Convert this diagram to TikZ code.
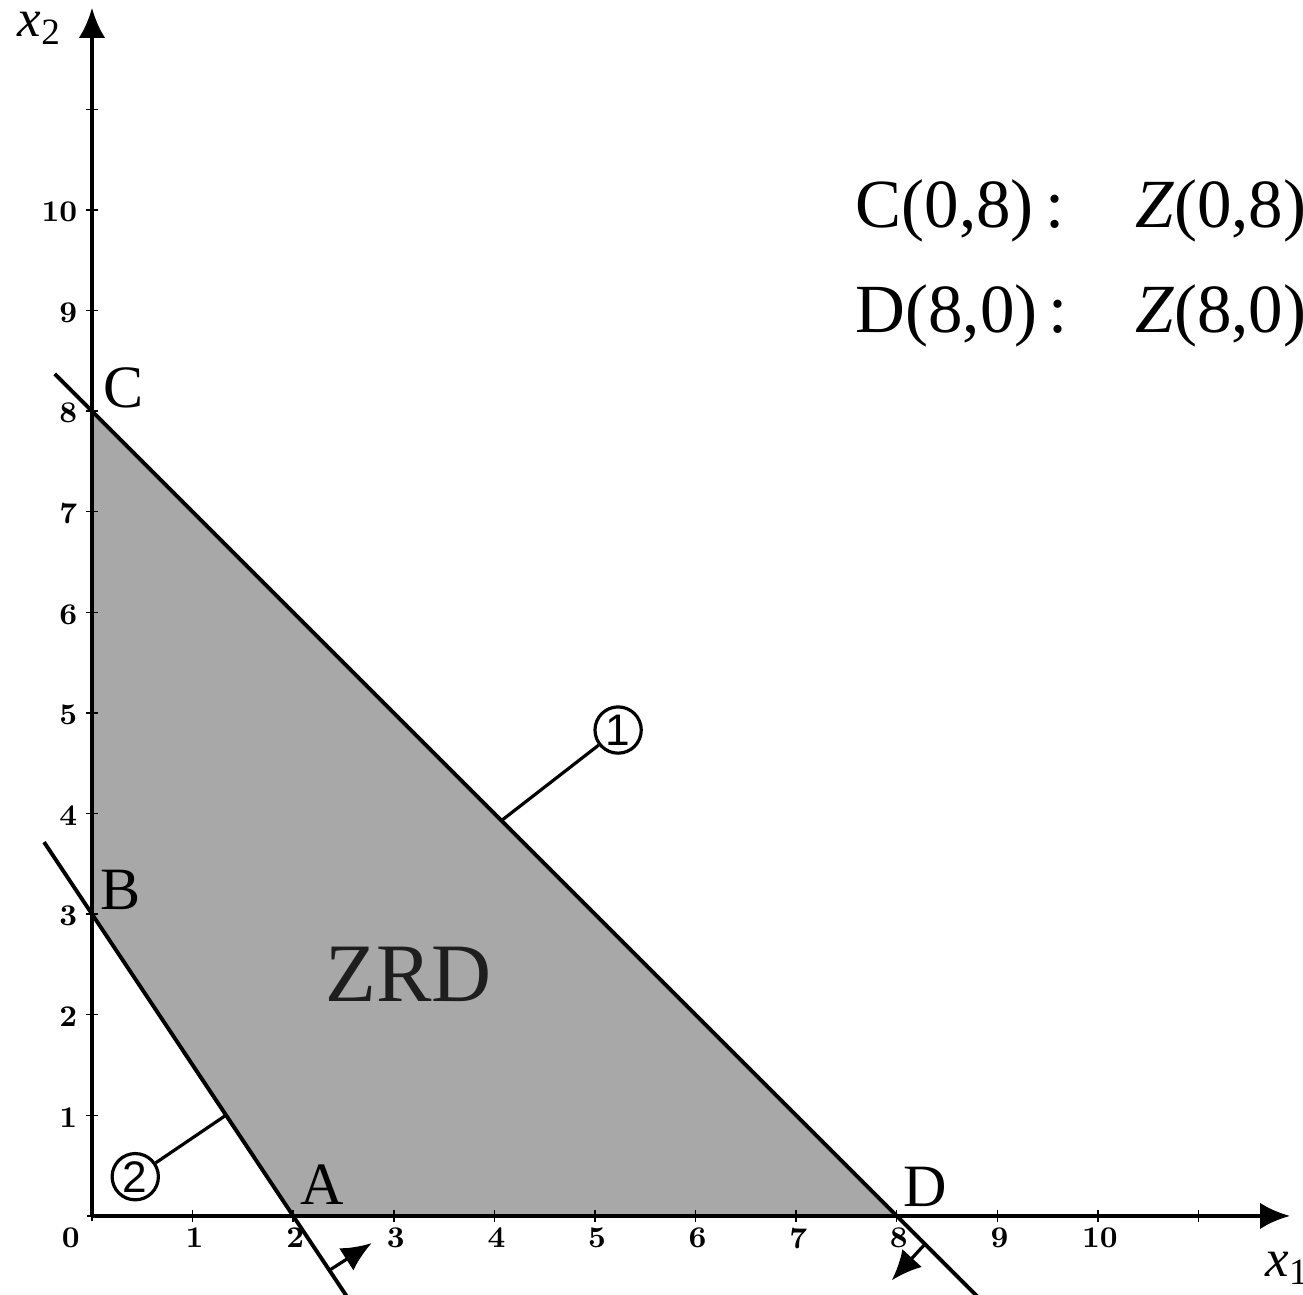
\documentclass[tikz,border=0pt]{standalone}
\usepackage{fontspec}
\newfontfamily\tms{Liberation Serif}
\newfontfamily\lsans{Liberation Sans}
\usetikzlibrary{arrows.meta}
\definecolor{zrdgray}{HTML}{A8A8A8}
\definecolor{inkdark}{HTML}{1E1E1E}
\begin{document}
\begin{tikzpicture}[x=1cm,y=1cm,
  axisline/.style={line width=1.2pt,-{Latex[length=8.5pt,width=7.5pt]}},
  cline/.style={line width=1.1pt},
  ticksty/.style={line width=0.4pt},
  ticklab/.style={font=\fontsize{8.5}{9}\selectfont\bfseries, inner sep=0pt},
  ptlab/.style={font=\tms\fontsize{17}{20}\selectfont, inner sep=0pt, anchor=base west},
  toptext/.style={font=\tms\fontsize{19.5}{22}\selectfont, inner sep=0pt, anchor=base west},
  circlab/.style={circle, draw, line width=0.9pt, minimum size=0.46cm, inner sep=0pt, font=\lsans\fontsize{12.5}{13}\selectfont},
  leader/.style={line width=0.9pt},
  dirarrow/.style={line width=0.9pt, -{Latex[length=8.5pt,width=7.5pt]}}
]
\useasboundingbox (-0.9145,-0.785) rectangle (12.038,12.087);

% key points
\coordinate (O) at (0,0);
\coordinate (A) at (2,0);
\coordinate (B) at (0,3);
\coordinate (C) at (0,8);
\coordinate (D) at (8,0);
\coordinate (xend) at (11.91,0);
\coordinate (yend) at (0,12.01);

% feasible region
\fill[zrdgray] (B) -- (C) -- (D) -- (A) -- cycle;

% ticks
\foreach \i in {1,...,11} {
  \draw[ticksty] (\i,-0.06) -- (\i,0.06);
  \draw[ticksty] (-0.06,\i) -- (0.06,\i);
}
\draw[ticksty] (-0.05,0) -- (0,0);
\draw[ticksty] (0,-0.05) -- (0,0);

% axes
\draw[axisline] (O) -- (xend);
\draw[axisline] (O) -- (yend);

% tick labels
\node[ticklab] (l0) at (-0.21,-0.22) {0};
\foreach \i in {1,...,10} {
  \node[ticklab] (lx\i) at (\i+0.02,-0.22) {\i};
  \node[ticklab, anchor=east] (ly\i) at (-0.14,\i-0.02) {\i};
}

% constraint lines
\coordinate (l1s) at (-0.37,8.37);
\coordinate (l1e) at (8.85,-0.85);
\coordinate (l2s) at (-0.477,3.716);
\coordinate (l2e) at (2.58,-0.87);
\draw[cline] (l1s) -- (l1e);
\draw[cline] (l2s) -- (l2e);

% direction arrows
\coordinate (a1b) at (8.28,-0.28);
\coordinate (a1t) at (7.95,-0.64);
\coordinate (a2b) at (2.36,-0.54);
\coordinate (a2t) at (2.78,-0.27);
\draw[dirarrow] (a1b) -- (a1t);
\draw[dirarrow] (a2b) -- (a2t);

% circled labels with leaders
\node[circlab] (n1) at (5.23,4.83) {1};
\node[circlab] (n2) at (0.43,0.39) {2};
\coordinate (p1) at (4.07,3.93);
\coordinate (p2) at (1.33,1.0);
\draw[leader] (p1) -- (n1);
\draw[leader] (p2) -- (n2);

% point labels
\node[ptlab] (labA) at (2.07,0.11) {A};
\node[ptlab] (labB) at (0.08,3.05) {B};
\node[ptlab] (labC) at (0.11,8.04) {C};
\node[ptlab] (labD) at (8.06,0.09) {D};

% region label
\node[font=\tms\fontsize{23.5}{26}\selectfont, text=inkdark, inner sep=0pt, anchor=base west] (zrd) at (2.316,2.127) {ZRD};

% axis labels
\node[font=\tms\fontsize{15}{17}\selectfont, inner sep=0pt, anchor=base west] (x2lab) at (-0.745,11.72) {\itshape x\textsubscript{\upshape 2}};
\node[font=\tms\fontsize{15}{17}\selectfont, inner sep=0pt, anchor=base west] (x1lab) at (11.66,-0.605) {\itshape x\textsubscript{\upshape 1}};

% evaluations
\node[toptext] (c1) at (7.584,9.83) {C(0,8)\,:};
\node[toptext] (z1) at (10.368,9.83) {\itshape Z\upshape(0,8)};
\node[toptext] (d1) at (7.584,8.777) {D(8,0)\,:};
\node[toptext] (z2) at (10.368,8.777) {\itshape Z\upshape(8,0)};
\end{tikzpicture}
\end{document}
